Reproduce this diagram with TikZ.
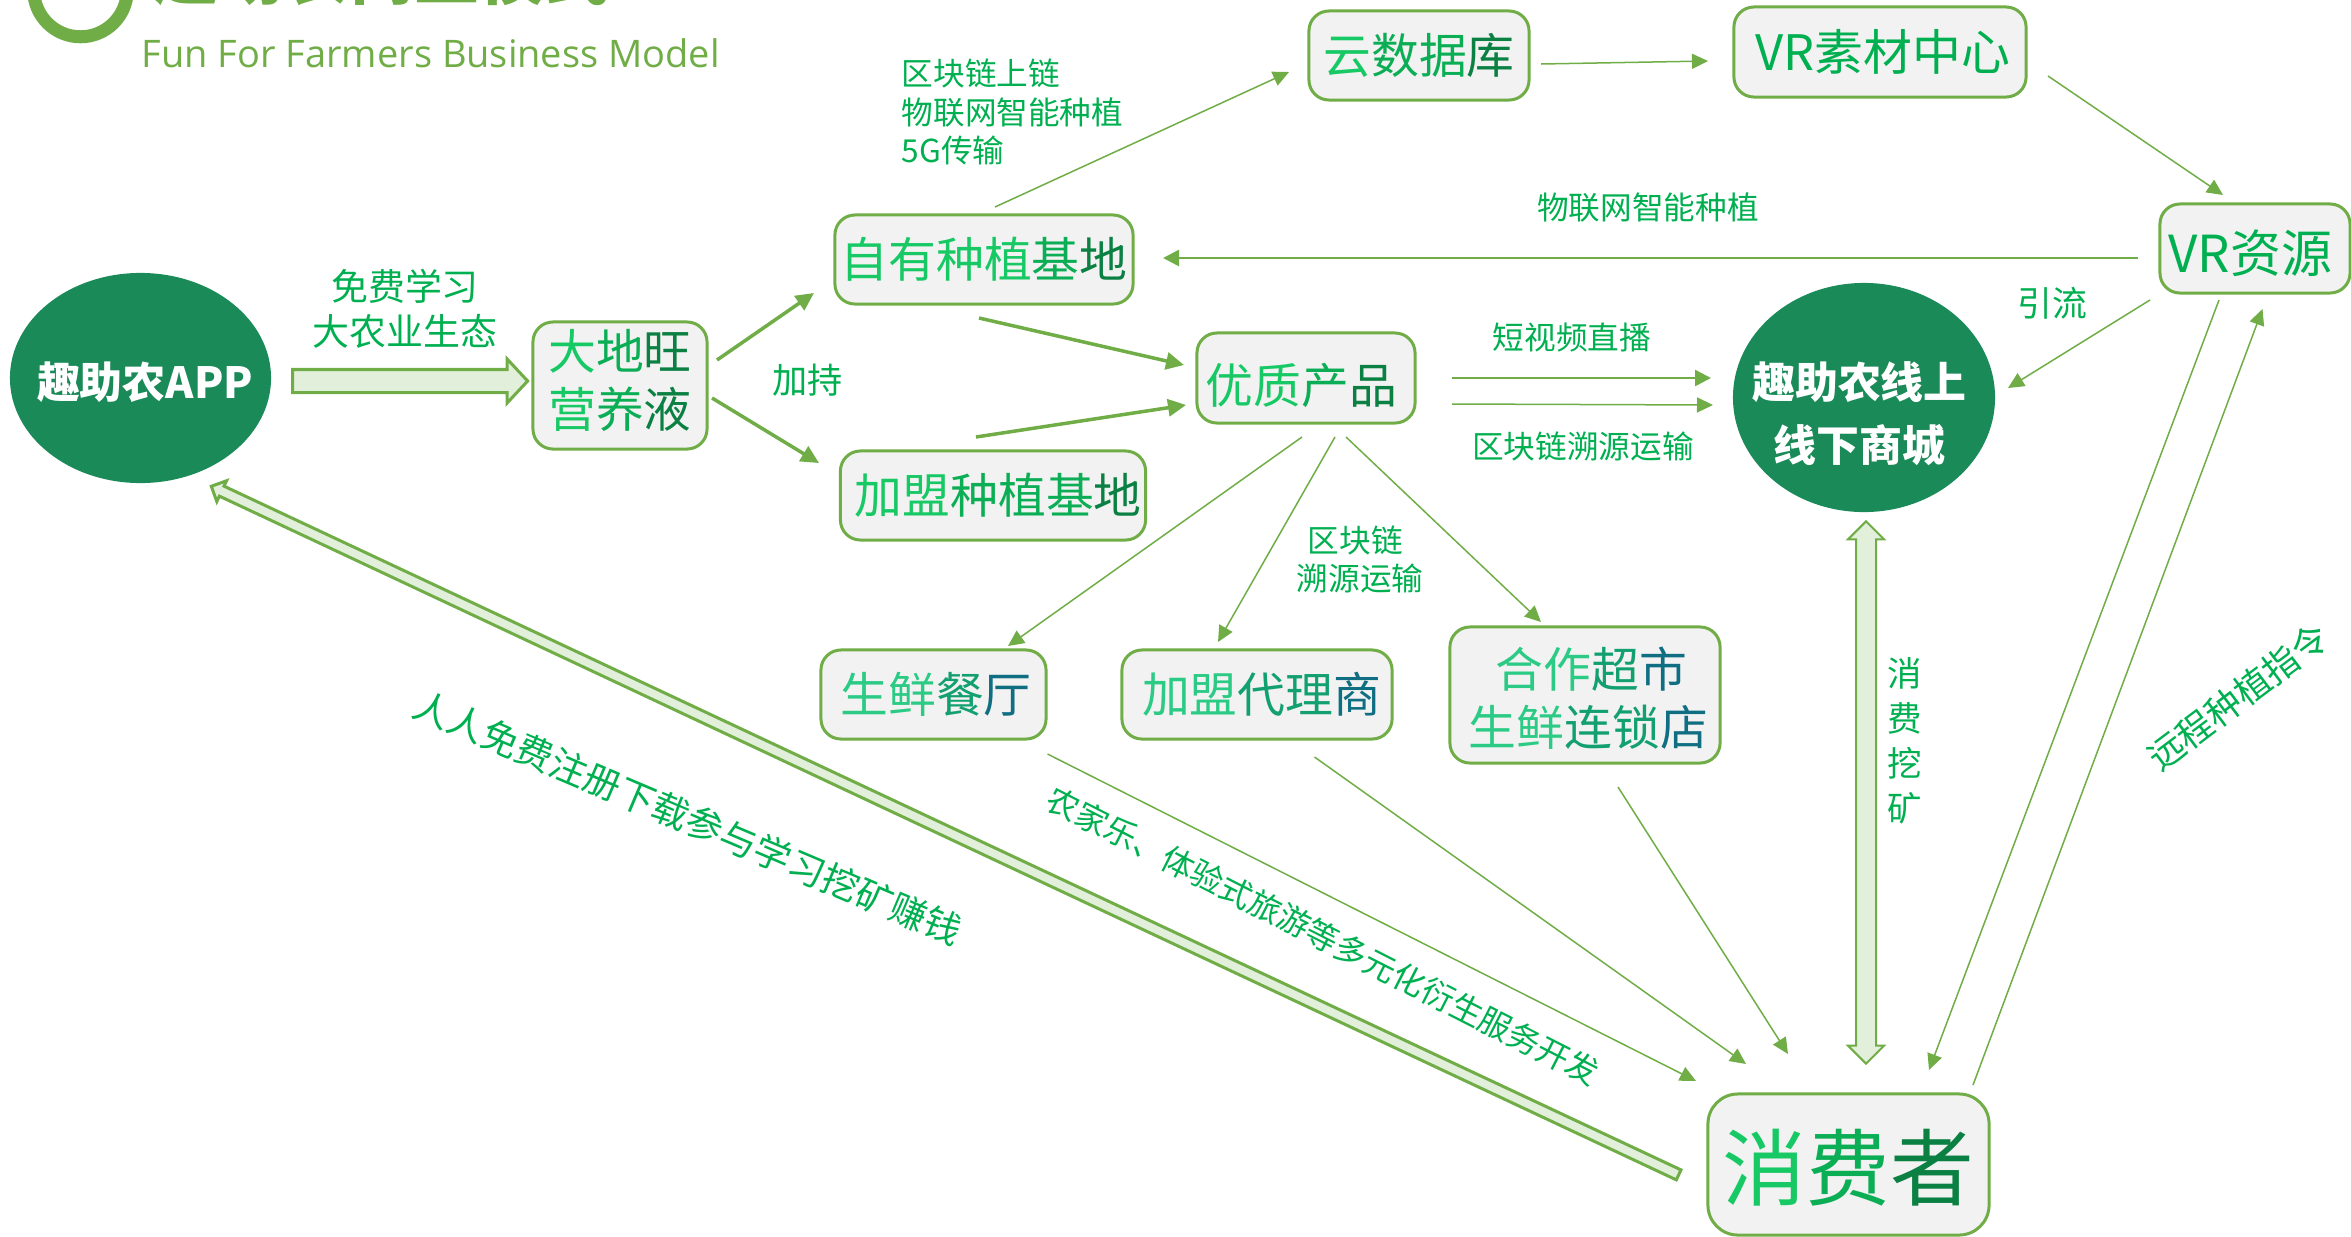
\documentclass[tikz,border=0pt]{standalone}
\usepackage{fontspec}
\usepackage{tikz}
\usetikzlibrary{arrows.meta,shapes.arrows,shapes.geometric}
\setmainfont{Noto Sans CJK SC}
\newfontfamily\titlefont{Open Sans}
\definecolor{farmline}{HTML}{70AD47}
\definecolor{farmfill}{HTML}{F2F2F2}
\definecolor{farmblock}{HTML}{E2EFDA}
\definecolor{farmdark}{HTML}{1A8A59}
\definecolor{labelgreen}{HTML}{00B050}
\definecolor{txtA}{HTML}{17C964}
\definecolor{txtB}{HTML}{0CAE55}
\definecolor{txtC}{HTML}{0B8043}
\definecolor{tealA}{HTML}{2CCB85}
\definecolor{tealB}{HTML}{12A070}
\definecolor{tealC}{HTML}{0F6E82}
\newcommand{\greentxt}[3]{{\color{txtA}#1}{\color{txtB}#2}{\color{txtC}#3}}
\newcommand{\tealtxt}[3]{{\color{tealA}#1}{\color{tealB}#2}{\color{tealC}#3}}
\newcommand{\nudge}[2]{\raisebox{#1}[\height][\depth]{#2}}
\tikzset{
	farmbox/.style={draw=farmline,fill=farmfill,line width=.03cm,rounded corners=.2cm,inner sep=0pt,align=center,text=labelgreen,font=\fontsize{13.6}{16.5}\selectfont},
	farmoval/.style={ellipse,fill=farmdark,inner sep=0pt,align=center,text=white,font=\fontsize{12.2}{17.7}\selectfont\bfseries},
	farmlabel/.style={text=labelgreen,inner sep=0pt,align=center,font=\fontsize{9}{10.8}\selectfont},
	biglabel/.style={farmlabel,font=\fontsize{10.5}{12.8}\selectfont},
	thinflow/.style={draw=farmline,line width=.015cm,-{Triangle[length=.16cm,width=.15cm]}},
	midflow/.style={draw=farmline,line width=.025cm,-{Triangle[length=.16cm,width=.16cm]}},
	thickflow/.style={draw=farmline,line width=.035cm,-{Triangle[length=.18cm,width=.17cm]}},
	blockflow/.style={draw=farmline,fill=farmblock,line width=.03cm,inner xsep=0pt,single arrow,anchor=tail},
}
\begin{document}
\begin{tikzpicture}[x=.01cm,y=-.01cm]
	\path[use as bounding box] (0,0) rectangle (2351,1236);
	\clip (0,0) rectangle (2351,1236);
	%title, cut by the top of the page
	\draw[farmline,line width=.13cm] (80.5,-10) circle (.4675cm);
	\node[text=farmline,inner sep=0pt,font=\fontsize{18.5}{20}\selectfont\bfseries] (titlecn) at (382,-25) {趣助农商业模式};
	\node[text=farmline,inner sep=0pt,anchor=west,font=\titlefont\fontsize{10.8}{13}\selectfont] (titleen) at (141,53) {Fun For Farmers Business Model};

	%round nodes
	\node[farmoval,minimum width=2.61cm,minimum height=2.10cm] (app) at (140.5,378) {\makebox[0pt]{\kern2.6pt\nudge{-1.3pt}{趣助农APP}}};
	\node[farmoval,minimum width=2.62cm,minimum height=2.29cm] (mall) at (1864,397.5) {\makebox[0pt]{\nudge{-4.6pt}{趣助农线上}\kern2.6pt}\\\makebox[0pt]{\nudge{-4.6pt}{线下商城}\kern2.6pt}};

	%boxes
	\node[farmbox,minimum width=1.74cm,minimum height=1.27cm] (liquid) at (620,385.5) {\nudge{1.5pt}{\greentxt{大}{地}{旺}}\\\nudge{1.5pt}{\greentxt{营}{养}{液}}};
	\node[farmbox,minimum width=2.98cm,minimum height=.89cm] (ownbase) at (984,259.5) {\greentxt{自有种植}{基}{地}};
	\node[farmbox,minimum width=3.05cm,minimum height=.89cm] (joinbase) at (993,495.5) {\kern3pt\greentxt{加盟}{种植基}{地}};
	\node[farmbox,minimum width=2.18cm,minimum height=.90cm] (goods) at (1306,378) {\nudge{-2.1pt}{\greentxt{优质}{产}{品}}\kern2.6pt};
	\node[farmbox,minimum width=2.20cm,minimum height=.89cm] (cloud) at (1419,55.5) {\greentxt{云}{数据}{库}};
	\node[farmbox,minimum width=2.92cm,minimum height=.90cm,font=\fontsize{13.9}{16.5}\selectfont] (vrcenter) at (1880,52) {\kern1.7pt VR素材中心};
	\node[farmbox,minimum width=1.90cm,minimum height=.89cm,font=\fontsize{14.5}{16.5}\selectfont] (vrres) at (2255,248.5) {\nudge{-1.3pt}{VR资源}\kern2.6pt};
	\node[farmbox,minimum width=2.25cm,minimum height=.89cm] (restaurant) at (933.5,694.5) {\kern1.5pt\tealtxt{生鲜}{餐}{厅}};
	\node[farmbox,minimum width=2.70cm,minimum height=.89cm] (agent) at (1257,694.5) {\kern2.6pt\tealtxt{加盟}{代理}{商}};
	\node[farmbox,minimum width=2.70cm,minimum height=1.36cm] (market) at (1585,695) {\kern3.6pt\nudge{-1pt}{\tealtxt{合作}{超}{市}}\\\kern2pt\nudge{-1pt}{\tealtxt{生鲜}{连锁}{店}}};
	\node[farmbox,minimum width=2.81cm,minimum height=1.41cm,rounded corners=.3cm,font=\fontsize{23.8}{26}\selectfont] (user) at (1848.5,1164.5) {\nudge{-.8pt}{\greentxt{消}{费}{者}}};

	%block arrows
	\node[blockflow,minimum height=2.35cm,inner ysep=.1cm,single arrow head extend=.105cm,single arrow tip angle=94] (learnflow) at (291,381) {};
	\node[blockflow,minimum height=16.2cm,inner ysep=.04cm,single arrow head extend=.06cm,single arrow tip angle=90,rotate=154.86] (signflow) at (1680,1175.5) {};
	\node[draw=farmline,fill=farmblock,line width=.02cm,double arrow,inner xsep=0pt,minimum height=5.42cm,inner ysep=.09cm,double arrow head extend=.08cm,double arrow tip angle=90,rotate=90] (mineflow) at (1866,792.5) {};

	%flows
	\draw[thickflow] ([shift={(97,-25.5)}]liquid.center) -- ([shift={(-170,33.5)}]ownbase.center);
	\draw[thickflow] ([shift={(92,12.5)}]liquid.center) -- ([shift={(-174,-32.5)}]joinbase.center);
	\draw[thickflow] ([shift={(-5,58.5)}]ownbase.center) -- ([shift={(-122,-13)}]goods.center);
	\draw[thickflow] ([shift={(-17,-58.5)}]joinbase.center) -- ([shift={(-120,27)}]goods.center);
	\draw[midflow] ([shift={(146,0)}]goods.center) -- ([shift={(-153,-19.5)}]mall.center);
	\draw[thinflow] ([shift={(146,26)}]goods.center) -- ([shift={(-151,7.5)}]mall.center);
	\draw[thinflow] ([shift={(-4,59)}]goods.center) -- ([shift={(74.5,-48.5)}]restaurant.center);
	\draw[thinflow] ([shift={(29,59)}]goods.center) -- ([shift={(-39,-52.5)}]agent.center);
	\draw[thinflow] ([shift={(40,59)}]goods.center) -- ([shift={(-44,-73)}]market.center);
	\draw[thinflow] ([shift={(11,-52.5)}]ownbase.center) -- ([shift={(-130,16.5)}]cloud.center);
	\draw[thinflow] ([shift={(122,8.5)}]cloud.center) -- ([shift={(-172,9)}]vrcenter.center);
	\draw[thinflow] ([shift={(168,24)}]vrcenter.center) -- ([shift={(-32,-53.5)}]vrres.center);
	\draw[midflow] ([shift={(-117.5,9.5)}]vrres.center) -- ([shift={(179,-1.5)}]ownbase.center);
	\draw[thinflow] ([shift={(-105,51.5)}]vrres.center) -- ([shift={(144,-9.5)}]mall.center);
	\draw[thinflow] ([shift={(-36,51.5)}]vrres.center) -- ([shift={(80.5,-94.5)}]user.center);
	\draw[thinflow] ([shift={(124.5,-79.5)}]user.center) -- ([shift={(7.5,60.5)}]vrres.center);
	\draw[thinflow] ([shift={(114,59.5)}]restaurant.center) -- ([shift={(-152.5,-83.5)}]user.center);
	\draw[thinflow] ([shift={(57.5,62.5)}]agent.center) -- ([shift={(-102.5,-100.5)}]user.center);
	\draw[thinflow] ([shift={(33,92)}]market.center) -- ([shift={(-60.5,-110.5)}]user.center);

	%labels
	\node[biglabel] (lblfree) at (405,309) {免费学习\\大农业生态};
	\node[biglabel,font=\fontsize{10}{12}\selectfont] (lblboost) at (807.5,380) {加持};
	\node[farmlabel,anchor=west,align=left,font=\fontsize{9}{11}\selectfont] (lblchain) at (901,112) {区块链上链\\物联网智能种植\\5G传输};
	\node[farmlabel] (lbliot) at (1648,208) {物联网智能种植};
	\node[farmlabel] (lblvideo) at (1572,337) {短视频直播};
	\node[farmlabel] (lbltrace) at (1583,446) {区块链溯源运输};
	\node[farmlabel] (lbltracetwo) at (1360,559) {区块链\kern2.6pt\\溯源运输};
	\node[biglabel,font=\fontsize{9.9}{12}\selectfont] (lbldrain) at (2052,303) {引流};
	\node[biglabel,font=\fontsize{9.8}{12.8}\selectfont] (lblmine) at (1905,740.5) {消\\费\\挖\\矿};
	\node[biglabel,font=\fontsize{10.2}{12}\selectfont,rotate=37] (lblremote) at (2238,697) {远程种植指令};
	\node[biglabel,font=\fontsize{10.5}{12}\selectfont,rotate=-23] (lblsign) at (688,818) {人人免费注册下载参与学习挖矿赚钱};
	\node[farmlabel,font=\fontsize{9.2}{11}\selectfont,rotate=-27] (lblfun) at (1323,936) {农家乐、体验式旅游等多元化衍生服务开发};
\end{tikzpicture}
\end{document}
